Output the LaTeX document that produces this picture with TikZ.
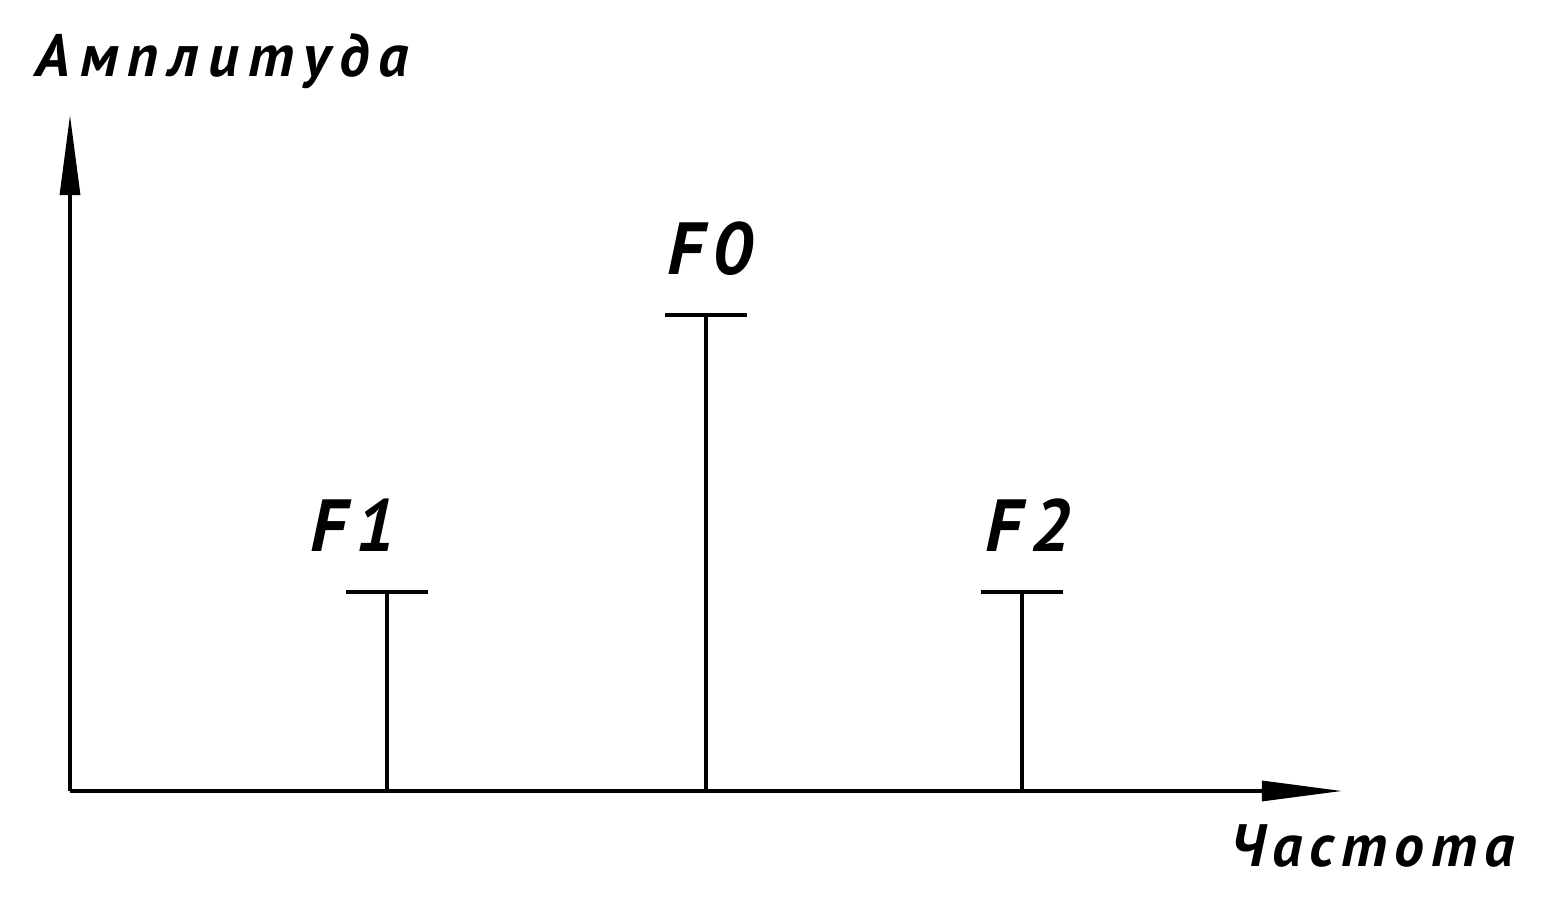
\documentclass[tikz,border=0pt]{standalone}
\usepackage{fontspec}
\setmainfont{PT Sans}
\newfontfamily\ampfont[LetterSpace=16]{PT Sans}
\newfontfamily\axisfont[LetterSpace=12]{PT Sans}
\newfontfamily\freqfont[LetterSpace=12]{PT Sans}
\usetikzlibrary{arrows.meta}
\begin{document}
\begin{tikzpicture}[x=0.01cm, y=-0.01cm,
  axis/.style = {line width=0.9pt, -{Triangle[length=0.8cm, width=0.2cm]}},
  stem/.style = {line width=0.9pt},
  axislabel/.style = {font=\axisfont\fontsize{17}{19}\selectfont\bfseries\itshape,
    inner sep=0pt, anchor=base west},
  freqlabel/.style = {font=\freqfont\fontsize{21}{24}\selectfont\bfseries\itshape,
    inner sep=0pt, anchor=base west}]
  \useasboundingbox (0,0) rectangle (1545,901);
  % axes
  \coordinate (O) at (70,791);
  \coordinate (ytop) at (70,115);
  \coordinate (xend) at (1342,791);
  \draw[axis] (O) -- (ytop);
  \draw[axis] (O) -- (xend);
  \node[axislabel, font=\ampfont\fontsize{17}{19}\selectfont\bfseries\itshape] (amp) at (35,77) {Амплитуда};
  \node[axislabel] (freq) at (1230,867) {Частота};
  % spectral lines
  \foreach \name/\x/\y/\lx/\lbl in {f1/387/592/310/F1, f0/706/315/667/F0, f2/1022/592/985/F2} {
    \coordinate (\name b) at (\x,791);
    \coordinate (\name t) at (\x,\y);
    \coordinate (\name l) at (\x-41,\y);
    \coordinate (\name r) at (\x+41,\y);
    \draw[stem] (\name b) -- (\name t);
    \draw[stem] (\name l) -- (\name r);
    \node[freqlabel] (\name lbl) at (\lx,\y-40) {\lbl};
  }
\end{tikzpicture}
\end{document}
